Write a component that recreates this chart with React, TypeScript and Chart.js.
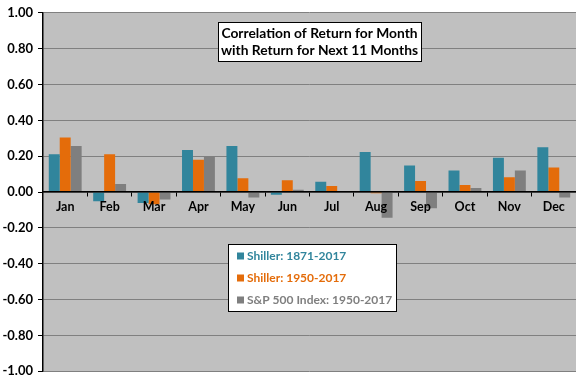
import React, { useEffect, useRef } from "react";
import { Chart, registerables } from "chart.js";

Chart.register(...registerables);

const months = ["Jan", "Feb", "Mar", "Apr", "May", "Jun", "Jul", "Aug", "Sep", "Oct", "Nov", "Dec"];
const seriesNames = ["Shiller: 1871-2017", "Shiller: 1950-2017", "S&P 500 Index: 1950-2017"];
const shiller1871 = [0.211, -0.051, -0.062, 0.234, 0.256, -0.015, 0.057, 0.223, 0.148, 0.12, 0.191, 0.25];
const shiller1950 = [0.304, 0.211, -0.069, 0.18, 0.077, 0.066, 0.034, -0.007, 0.061, 0.039, 0.083, 0.137];
const sp500 = [0.256, 0.045, -0.042, 0.2, -0.031, 0.012, 0.0, -0.144, -0.09, 0.023, 0.12, -0.031];
const seriesColors = ["#31859C", "#E46C0A", "#7F7F7F"];
const titleLines = ["Correlation of Return for Month", "with Return for Next 11 Months"];
const yMin = -1;
const yMax = 1;
const yStep = 0.2;

const FONT = "Lato, 'Open Sans', sans-serif";

const boxesPlugin = {
  id: "boxes",
  beforeDraw(chart: any) {
    const { ctx, chartArea } = chart;
    ctx.save();
    ctx.fillStyle = "#C0C0C0";
    ctx.fillRect(chartArea.left, chartArea.top, chartArea.right - chartArea.left, chartArea.bottom - chartArea.top);
    ctx.restore();
  },
  afterDraw(chart: any) {
    const { ctx } = chart;
    ctx.save();
    // Title box
    const tx = 218, ty = 22, tw = 203, th = 39;
    ctx.fillStyle = "#FFFFFF";
    ctx.fillRect(tx, ty, tw, th);
    ctx.strokeStyle = "#000000";
    ctx.lineWidth = 1;
    ctx.strokeRect(tx + 0.5, ty + 0.5, tw, th);
    ctx.fillStyle = "#000000";
    ctx.font = `bold 13.8px ${FONT}`;
    ctx.textAlign = "center";
    ctx.textBaseline = "middle";
    ctx.fillText(titleLines[0], tx + tw / 2, ty + 11.5);
    ctx.fillText(titleLines[1], tx + tw / 2, ty + 28.5);

    // Legend box
    const lx = 228, ly = 244, lw = 168, lh = 67;
    ctx.fillStyle = "#FFFFFF";
    ctx.fillRect(lx, ly, lw, lh);
    ctx.strokeStyle = "#000000";
    ctx.strokeRect(lx + 0.5, ly + 0.5, lw, lh);
    ctx.font = `bold 12px ${FONT}`;
    ctx.textAlign = "left";
    ctx.textBaseline = "middle";
    seriesNames.forEach((name, i) => {
      const cy = ly + 12 + i * 22;
      ctx.fillStyle = seriesColors[i];
      ctx.fillRect(lx + 9, cy - 3.5, 7, 7);
      ctx.fillText(name, lx + 19, cy);
    });
    ctx.restore();
  },
};

export default function App() {
  const canvasRef = useRef<HTMLCanvasElement | null>(null);

  useEffect(() => {
    document.body.style.margin = "0";
    const canvas = canvasRef.current;
    if (!canvas) return;
    const datasets = [shiller1871, shiller1950, sp500].map((d, i) => ({
      label: seriesNames[i],
      data: d,
      backgroundColor: seriesColors[i],
      borderWidth: 0,
      categoryPercentage: 0.74,
      barPercentage: 1.0,
    }));
    const chart = new Chart(canvas, {
      type: "bar",
      data: { labels: months, datasets },
      plugins: [boxesPlugin],
      options: {
        animation: false,
        responsive: true,
        maintainAspectRatio: false,
        devicePixelRatio: 1,
        layout: { padding: { top: 7, bottom: 7, left: 0, right: 0 } },
        plugins: {
          legend: { display: false },
          title: { display: false },
          tooltip: { enabled: false },
        },
        scales: {
          x: {
            position: { y: 0 },
            grid: {
              display: true,
              drawOnChartArea: false,
              drawTicks: true,
              tickLength: 4,
              tickColor: "#000000",
              offset: true,
              z: 1,
            },
            border: { display: true, color: "#000000", width: 1.5, z: 1 },
            ticks: {
              z: 1,
              color: "#000000",
              font: { family: FONT, size: 12.5, weight: "bold" },
              padding: 3,
              maxRotation: 0,
            },
          },
          y: {
            min: yMin,
            max: yMax,
            afterFit(scale: any) {
              scale.width = 43;
            },
            grid: {
              color: "#808080",
              lineWidth: 1,
              tickLength: 5,
              tickColor: "#000000",
            },
            border: { display: true, color: "#000000", width: 1.5 },
            ticks: {
              stepSize: yStep,
              color: "#000000",
              font: { family: FONT, size: 13, weight: "bold" },
              padding: 5,
              callback: (v: any) => {
                const n = Number(v);
                return (Math.abs(n) < 1e-9 ? 0 : n).toFixed(2);
              },
            },
          },
        },
      },
    });
    return () => chart.destroy();
  }, []);

  return (
    <div style={{ position: "relative", width: 576, height: 384 }}>
      <canvas ref={canvasRef} />
    </div>
  );
}
